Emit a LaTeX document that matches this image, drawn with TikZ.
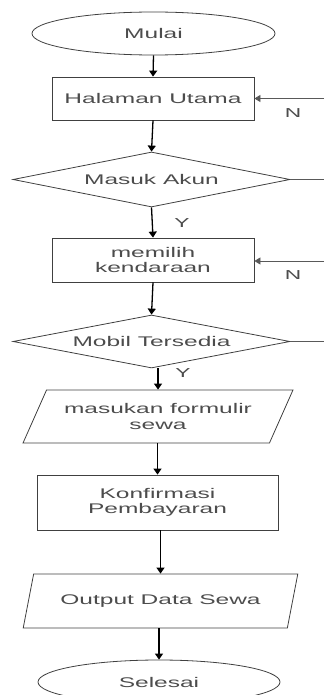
\documentclass[tikz,border=0pt]{standalone}
\usepackage{fontspec}
\setmainfont{Liberation Sans}[FakeStretch=1.75]
\usetikzlibrary{shapes.geometric,arrows.meta}
\begin{document}
\begin{tikzpicture}[x=1pt,y=-1pt,
  every node/.style={font=\fontsize{14}{15}\selectfont, text=black!70, align=center, inner sep=0pt},
  shp/.style={draw=black!75, line width=0.8pt},
  term/.style={shp, ellipse},
  proc/.style={shp, rectangle},
  dec/.style={shp, diamond, shape aspect=5},
  io/.style={shp, trapezium, trapezium stretches=true},
  arr/.style={draw=black, line width=1.3pt, -{Triangle[length=6pt,width=8pt]}},
  back/.style={draw=black!65, line width=0.8pt},
  lbl/.style={font=\fontsize{13}{14}\selectfont, text=black!70}
]
\clip (0,0) rectangle (324,695);
\node[term, minimum width=243, minimum height=43] (mulai) at (153.5,33.5) {Mulai};
\node[proc, minimum width=202, minimum height=43] (hal) at (153,98.5) {Halaman Utama};
\node[dec, minimum width=277, minimum height=55] (akun) at (151.5,179.5) {Masuk Akun};
\node[proc, minimum width=202, minimum height=44] (pilih) at (153,260) {memilih\\kendaraan};
\node[dec, minimum width=277, minimum height=53] (mobil) at (151.5,341.5) {Mobil Tersedia};
\node[io, trapezium left angle=53, trapezium right angle=127, minimum width=270, minimum height=53] (form) at (158,416.5) {masukan formulir\\[1pt]sewa};
\node[proc, minimum width=241, minimum height=55] (konf) at (157.5,502.5) {Konfirmasi\\Pembayaran};
\node[io, trapezium left angle=57, trapezium right angle=123, minimum width=275, minimum height=54] (out) at (160.5,601) {Output Data Sewa};
\node[term, minimum width=242, minimum height=44] (selesai) at (159,682) {Selesai};

\coordinate (n1) at (324,98.5);
\coordinate (n2) at (324,261);
\coordinate (e1) at (324,179.5);
\coordinate (e2) at (324,341.5);

\draw[arr] (mulai.south) -- (hal.north);
\draw[arr] (hal.south) -- (akun.north);
\draw[arr] (akun.south) -- (pilih.north);
\draw[arr] (pilih.south) -- (mobil.north);
\draw[arr] (mobil.south -| form.north) -- (form.north);
\draw[arr] (form.south -| konf.north) -- (konf.north);
\draw[arr] (konf.south -| out.north) -- (out.north);
\draw[arr] (out.south -| selesai.north) -- (selesai.north);

\draw[back, -{Triangle[length=6pt,width=7pt]}] (n1) -- (hal.east);
\draw[back, -{Triangle[length=6pt,width=7pt]}] (n2) -- (pilih.east |- n2);
\draw[back] (akun.east) -- (e1);
\draw[back] (mobil.east) -- (e2);

\node[lbl] (ln1) at (293,113) {N};
\node[lbl] (ln2) at (293,275) {N};
\node[lbl] (ly1) at (182,223) {Y};
\node[lbl] (ly2) at (183,373) {Y};
\end{tikzpicture}
\end{document}
